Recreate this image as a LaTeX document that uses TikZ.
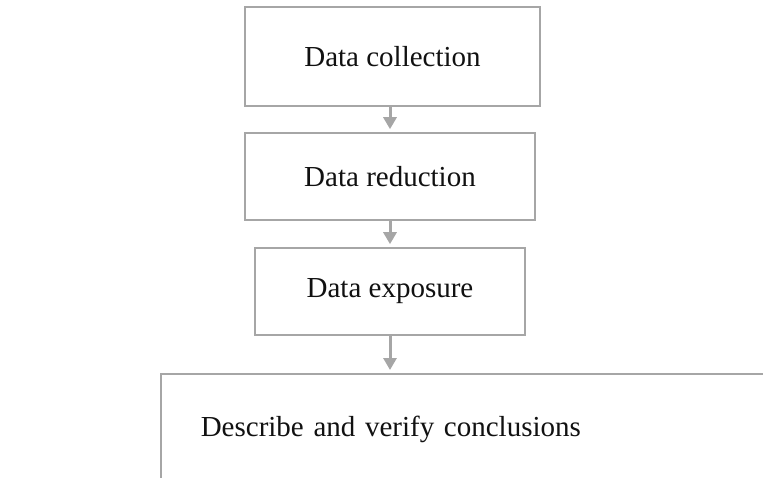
\documentclass[tikz,border=0pt]{standalone}
\usepackage{fontspec}
\setmainfont{Liberation Serif}
\usepackage{xcolor}
\usetikzlibrary{arrows.meta}
\definecolor{edge}{HTML}{A6A6A6}
\definecolor{ink}{HTML}{111111}
\tikzset{
  stage/.style={draw=edge, line width=1.6pt, fill=white, inner sep=0pt, text=ink, font=\fontsize{29}{34}\selectfont},
  flow/.style={draw=edge, line width=3pt, -{Triangle[width=13pt,length=12pt]}, shorten >=3pt},
}

\begin{document}
\begin{tikzpicture}[x=1pt,y=-1pt]
  \useasboundingbox (0,0) rectangle (763,477);
  \node[stage, minimum width=295pt, minimum height=99pt] (collect) at (392.5,56.5) {Data collection};
  \node[stage, minimum width=290pt, minimum height=87pt] (reduce) at (390,176.5) {Data reduction};
  \node[stage, minimum width=270pt, minimum height=87pt] (expose) at (390,291.5) {Data exposure};
  \node[stage, anchor=north west, text width=560pt, inner xsep=40pt, minimum height=112pt, align=left] (verify) at (160,373) {Describe and verify conclusions};
  \draw[flow] (reduce.north |- collect.south) -- (reduce.north);
  \draw[flow] (reduce.south) -- (expose.north);
  \draw[flow] (expose.south) -- (expose.south |- verify.north);
\end{tikzpicture}
\end{document}
